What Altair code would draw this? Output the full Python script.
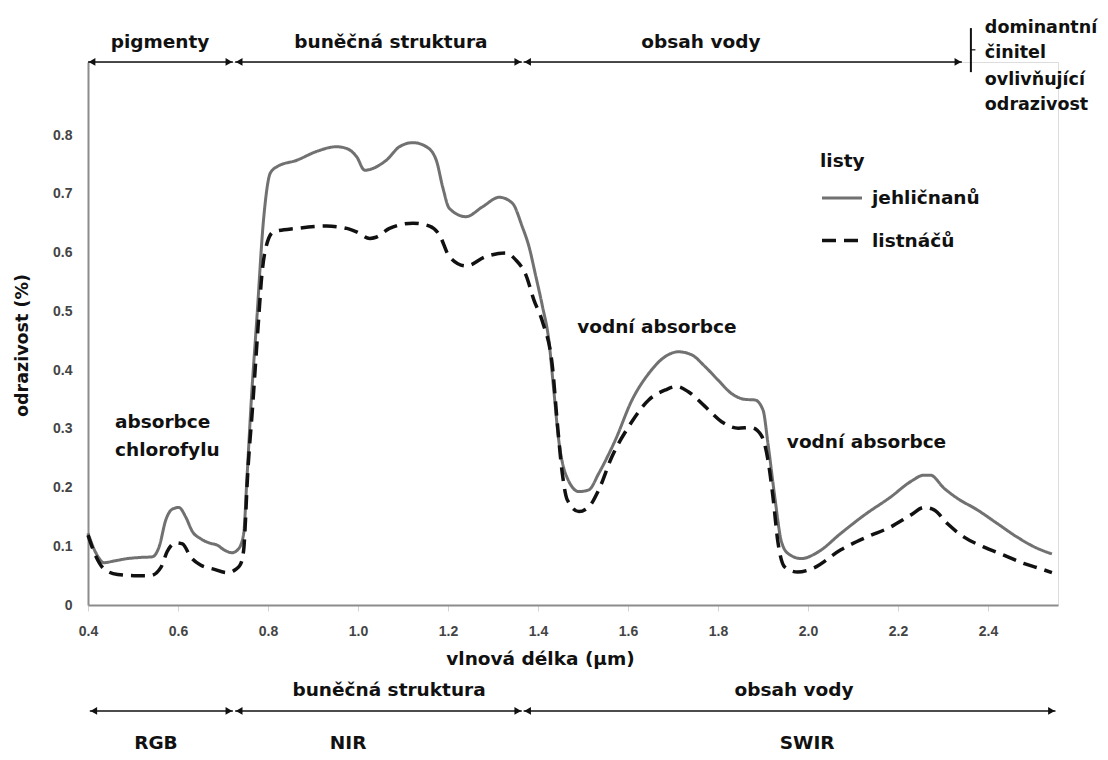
import altair as alt
import pandas as pd

# ---------------- data ----------------
SERIES = ["jehličnanů", "listnáčů"]

jehl_wl = [0.400, 0.418, 0.436, 0.458, 0.488, 0.517, 0.543, 0.558, 0.573, 0.587,
           0.602, 0.617, 0.632, 0.650, 0.672, 0.687, 0.702, 0.720, 0.735, 0.746,
           0.753, 0.763, 0.775, 0.790, 0.805, 0.820, 0.864, 0.908, 0.952, 0.975,
           0.997, 1.015, 1.033, 1.048, 1.063, 1.092, 1.122, 1.152, 1.174, 1.188,
           1.203, 1.240, 1.277, 1.314, 1.343, 1.365, 1.380, 1.395, 1.410, 1.424,
           1.435, 1.446, 1.461, 1.491, 1.513, 1.535, 1.572, 1.609, 1.646, 1.683,
           1.712, 1.741, 1.771, 1.800, 1.830, 1.860, 1.882, 1.900, 1.911, 1.926,
           1.940, 1.955, 1.985, 2.022, 2.073, 2.125, 2.184, 2.228, 2.258, 2.272,
           2.302, 2.331, 2.376, 2.420, 2.464, 2.508, 2.542]
jehl_refl = [0.122, 0.088, 0.072, 0.075, 0.079, 0.081, 0.082, 0.099, 0.145, 0.163,
             0.166, 0.150, 0.125, 0.113, 0.105, 0.102, 0.094, 0.089, 0.096, 0.122,
             0.213, 0.350, 0.485, 0.655, 0.735, 0.746, 0.757, 0.772, 0.780, 0.777,
             0.763, 0.740, 0.743, 0.749, 0.757, 0.780, 0.787, 0.780, 0.757, 0.712,
             0.675, 0.661, 0.678, 0.694, 0.684, 0.644, 0.610, 0.560, 0.508, 0.451,
             0.366, 0.281, 0.224, 0.193, 0.196, 0.224, 0.281, 0.349, 0.394, 0.423,
             0.431, 0.426, 0.406, 0.383, 0.360, 0.350, 0.349, 0.332, 0.275, 0.185,
             0.111, 0.088, 0.079, 0.090, 0.122, 0.153, 0.184, 0.210, 0.221, 0.221,
             0.199, 0.182, 0.162, 0.139, 0.116, 0.097, 0.087]

list_wl = [0.400, 0.418, 0.436, 0.466, 0.502, 0.539, 0.562, 0.576, 0.595, 0.610,
           0.628, 0.650, 0.679, 0.709, 0.727, 0.738, 0.746, 0.750, 0.753, 0.766,
           0.779, 0.786, 0.794, 0.812, 0.864, 0.930, 0.975, 0.997, 1.026, 1.040,
           1.070, 1.122, 1.159, 1.181, 1.203, 1.240, 1.284, 1.329, 1.351, 1.373,
           1.391, 1.410, 1.432, 1.443, 1.454, 1.465, 1.491, 1.513, 1.535, 1.564,
           1.601, 1.646, 1.683, 1.708, 1.734, 1.771, 1.808, 1.845, 1.874, 1.896,
           1.911, 1.922, 1.933, 1.948, 1.977, 2.010, 2.073, 2.132, 2.184, 2.228,
           2.258, 2.280, 2.309, 2.346, 2.390, 2.435, 2.479, 2.516, 2.542]
list_refl = [0.119, 0.082, 0.061, 0.052, 0.050, 0.050, 0.064, 0.091, 0.106, 0.104,
             0.082, 0.068, 0.061, 0.055, 0.060, 0.068, 0.094, 0.145, 0.196, 0.340,
             0.485, 0.559, 0.604, 0.635, 0.641, 0.645, 0.641, 0.635, 0.624, 0.626,
             0.641, 0.650, 0.645, 0.630, 0.593, 0.577, 0.593, 0.599, 0.587, 0.562,
             0.519, 0.482, 0.406, 0.309, 0.224, 0.179, 0.159, 0.167, 0.196, 0.252,
             0.303, 0.349, 0.366, 0.372, 0.363, 0.338, 0.312, 0.301, 0.302, 0.289,
             0.247, 0.185, 0.108, 0.065, 0.056, 0.062, 0.094, 0.116, 0.133, 0.153,
             0.166, 0.162, 0.139, 0.116, 0.099, 0.085, 0.071, 0.062, 0.055]

X_TICKS = [0.4, 0.6, 0.8, 1.0, 1.2, 1.4, 1.6, 1.8, 2.0, 2.2, 2.4]
Y_TICKS = [0.0, 0.1, 0.2, 0.3, 0.4, 0.5, 0.6, 0.7, 0.8]

# annotation arrays (data units)
arrow_x0 = [0.400, 0.727, 1.368, 0.404, 0.727, 1.368]
arrow_x1 = [0.722, 1.364, 2.342, 0.722, 1.364, 2.550]
arrow_y = [0.9243, 0.9243, 0.9243, -0.1804, -0.1804, -0.1804]

center_text = ["pigmenty", "buněčná struktura", "obsah vody",
               "buněčná struktura", "obsah vody", "RGB", "NIR", "SWIR"]
center_x = [0.560, 1.073, 1.762, 1.069, 1.969, 0.551, 0.978, 1.998]
center_y = [0.958, 0.958, 0.958, -0.1447, -0.1447, -0.2349, -0.2349, -0.2349]

left_text = ["absorbce", "chlorofylu", "vodní absorbce", "vodní absorbce"]
left_x = [0.460, 0.460, 1.487, 1.953]
left_y = [0.312, 0.264, 0.473, 0.277]

dom_text = ["dominantní", "činitel", "ovlivňující", "odrazivost"]
dom_x = [2.393, 2.393, 2.393, 2.393]
dom_y = [0.982, 0.940, 0.894, 0.851]

bracket_x = [2.362]
bracket_y0 = [0.907]
bracket_y1 = [0.982]
bracket_tick_x1 = [2.372]
bracket_tick_y = [0.945]

# ---------------- layout constants ----------------
W, H = 970, 543
XDOM = [0.4, 0.4 + W / 450.0]
YDOM = [0.0, H / 587.5]
TXT_FONT = "DejaVu Sans"
TICK_FONT = "Liberation Sans"
GRAY = "#717171"
BLACK = "#111111"

df = pd.concat([
    pd.DataFrame({"wl": jehl_wl, "refl": jehl_refl, "series": SERIES[0]}),
    pd.DataFrame({"wl": list_wl, "refl": list_refl, "series": SERIES[1]}),
])

xscale = alt.Scale(domain=XDOM, nice=False, zero=False)
yscale = alt.Scale(domain=YDOM, nice=False, zero=False)

legend = alt.Legend(
    title="listy", orient="none", legendX=732, legendY=90,
    symbolType="stroke", symbolSize=1600, symbolStrokeWidth=3.5,
    titleFont=TXT_FONT, titleFontSize=18.5, titleFontWeight="bold", titleColor=BLACK,
    labelFont=TXT_FONT, labelFontSize=18.5, labelFontWeight="bold", labelColor=BLACK,
    titlePadding=6, rowPadding=11, labelOffset=8, padding=0, offset=0,
)

lines = alt.Chart(df).mark_line(interpolate="monotone").encode(
    x=alt.X("wl:Q", scale=xscale, title="vlnová délka (µm)",
            axis=alt.Axis(values=X_TICKS, format=".1f", grid=False, labelFlush=False,
                          labelFont=TICK_FONT, labelFontSize=14, labelFontWeight="bold",
                          labelColor="#444444", labelPadding=13,
                          tickSize=6, tickColor="#d4d4d4", tickWidth=1,
                          domainColor="#8c8c8c", domainWidth=2,
                          titleFont=TXT_FONT, titleFontSize=18.5, titleFontWeight="bold",
                          titleColor=BLACK, titleX=452, titleY=53,
                          titleBaseline="middle")),
    y=alt.Y("refl:Q", scale=yscale, title="odrazivost (%)",
            axis=alt.Axis(values=Y_TICKS, grid=False, ticks=False, labelFlush=False,
                          labelExpr="datum.value == 0 ? '0' : format(datum.value, '.1f')",
                          labelFont=TICK_FONT, labelFontSize=14, labelFontWeight="bold",
                          labelColor="#444444", labelPadding=16,
                          domainColor="#8c8c8c", domainWidth=2,
                          titleFont=TXT_FONT, titleFontSize=17.5, titleFontWeight="bold",
                          titleColor=BLACK, titleX=-66, titleY=283,
                          titleBaseline="middle")),
    color=alt.Color("series:N", scale=alt.Scale(domain=SERIES, range=[GRAY, BLACK]),
                    legend=legend),
    strokeDash=alt.StrokeDash("series:N",
                              scale=alt.Scale(domain=SERIES, range=[[1, 0], [14, 8]]),
                              legend=legend),
    strokeWidth=alt.StrokeWidth("series:N",
                                scale=alt.Scale(domain=SERIES, range=[3, 3.5]),
                                legend=None),
)

arrows_df = pd.DataFrame({"x0": arrow_x0, "x1": arrow_x1, "y": arrow_y})
arrow_lines = alt.Chart(arrows_df).mark_rule(color=BLACK, strokeWidth=1.5).encode(
    x=alt.X("x0:Q", scale=xscale), x2="x1:Q", y=alt.Y("y:Q", scale=yscale))
heads_r = alt.Chart(arrows_df).mark_point(shape="triangle-right", filled=True,
                                          color=BLACK, size=60, opacity=1,
                                          xOffset=-4).encode(
    x=alt.X("x1:Q", scale=xscale), y=alt.Y("y:Q", scale=yscale))
heads_l = alt.Chart(arrows_df).mark_point(shape="triangle-left", filled=True,
                                          color=BLACK, size=60, opacity=1,
                                          xOffset=4).encode(
    x=alt.X("x0:Q", scale=xscale), y=alt.Y("y:Q", scale=yscale))

bracket_df = pd.DataFrame({"x": bracket_x, "y0": bracket_y0, "y1": bracket_y1,
                           "tx": bracket_tick_x1, "ty": bracket_tick_y})
bracket = alt.Chart(bracket_df).mark_rule(color=BLACK, strokeWidth=2).encode(
    x=alt.X("x:Q", scale=xscale), y=alt.Y("y0:Q", scale=yscale), y2="y1:Q")
bracket_tick = alt.Chart(bracket_df).mark_rule(color=BLACK, strokeWidth=1.2).encode(
    x=alt.X("x:Q", scale=xscale), x2="tx:Q", y=alt.Y("ty:Q", scale=yscale))

ctext_df = pd.DataFrame({"x": center_x, "y": center_y, "t": center_text})
ctext = alt.Chart(ctext_df).mark_text(align="center", baseline="middle", font=TXT_FONT,
                                      fontSize=18.5, fontWeight="bold", color=BLACK).encode(
    x=alt.X("x:Q", scale=xscale), y=alt.Y("y:Q", scale=yscale), text="t:N")

ltext_df = pd.DataFrame({"x": left_x, "y": left_y, "t": left_text})
ltext = alt.Chart(ltext_df).mark_text(align="left", baseline="middle", font=TXT_FONT,
                                      fontSize=18.5, fontWeight="bold", color=BLACK).encode(
    x=alt.X("x:Q", scale=xscale), y=alt.Y("y:Q", scale=yscale), text="t:N")

dtext_df = pd.DataFrame({"x": dom_x, "y": dom_y, "t": dom_text})
dtext = alt.Chart(dtext_df).mark_text(align="left", baseline="middle", font=TXT_FONT,
                                      fontSize=17.5, fontWeight="bold", color=BLACK).encode(
    x=alt.X("x:Q", scale=xscale), y=alt.Y("y:Q", scale=yscale), text="t:N")

chart = alt.layer(lines, arrow_lines, heads_r, heads_l, bracket, bracket_tick,
                  ctext, ltext, dtext).properties(
    width=W, height=H,
    autosize=alt.AutoSizeParams(type="none"),
    padding={"left": 80, "top": 54, "right": 42, "bottom": 149},
).configure_view(stroke=None).configure(background="white")

chart.save("out.html", embed_options={"renderer": "svg", "actions": False})
